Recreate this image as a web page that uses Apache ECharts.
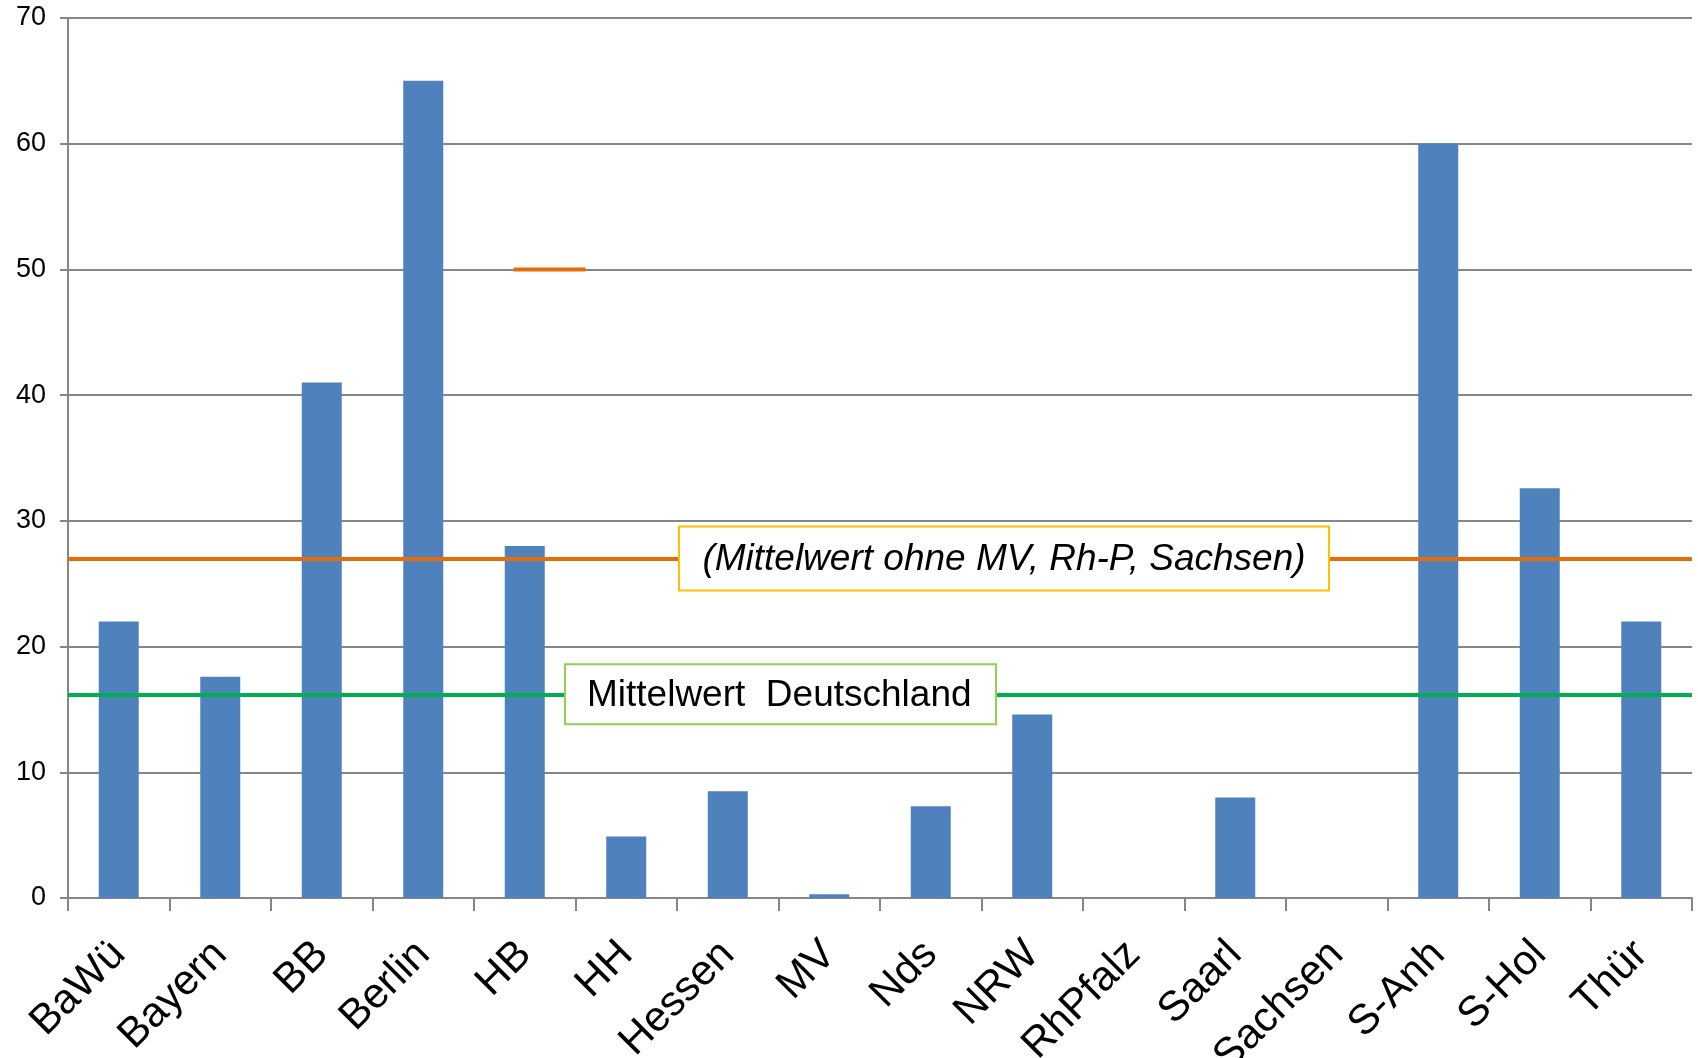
<!DOCTYPE html>
<html>
<head>
<meta charset="utf-8">
<title>Mittelwert</title>
<script src="https://cdn.jsdelivr.net/npm/echarts@6/dist/echarts.min.js"></script>
<style>
  html, body { margin: 0; padding: 0; background: #fff; }
  #chart { width: 1698px; height: 1058px; }
</style>
</head>
<body>
<div id="chart"></div>
<script>
// Bundesländer
const categories = ['BaWü', 'Bayern', 'BB', 'Berlin', 'HB', 'HH', 'Hessen', 'MV', 'Nds', 'NRW', 'RhPfalz', 'Saarl', 'Sachsen', 'S-Anh', 'S-Hol', 'Thür']
const values = [22, 17.6, 41, 65, 28, 4.9, 8.5, 0.3, 7.3, 14.6, 0, 8, 0, 60, 32.6, 22]

// Mittelwerte
const meanWithout = 27
const meanGermany = 16.2
const meanWithoutLabel = '(Mittelwert ohne MV, Rh-P, Sachsen)'
const meanGermanyLabel = 'Mittelwert  Deutschland'

// kurzes orangenes Stück bei 50 (x in Kategorie-Einheiten)
const strayLine = [[4.39, 50], [5.1, 50]]

const yMin = 0
const yMax = 70
const yStep = 10

const font = '"Liberation Sans", Arial, sans-serif'
const axisGray = '#868686'

const chart = echarts.init(document.getElementById('chart'))

chart.setOption({
  animation: false,
  grid: {
    left: 68,
    right: 6,
    top: 18,
    bottom: 160,
    outerBoundsMode: 'none'
  },
  xAxis: [{
    type: 'category',
    data: categories,
    boundaryGap: true,
    axisLine: { lineStyle: { color: axisGray, width: 2 } },
    axisTick: {
      show: true,
      length: 13,
      interval: 0,
      lineStyle: { color: axisGray, width: 2 }
    },
    axisLabel: {
      interval: 0,
      rotate: 45,
      margin: 50,
      fontSize: 42,
      fontFamily: font,
      color: '#000'
    }
  }, {
    type: 'value',
    min: 0,
    max: categories.length,
    show: false
  }],
  yAxis: {
    type: 'value',
    min: yMin,
    max: yMax,
    interval: yStep,
    axisLine: { show: true, lineStyle: { color: axisGray, width: 2 } },
    axisTick: { show: true, length: 8, lineStyle: { color: axisGray, width: 2 } },
    splitLine: { lineStyle: { color: axisGray, width: 2 } },
    axisLabel: {
      margin: 22,
      fontSize: 27,
      fontFamily: font,
      color: '#000'
    }
  },
  series: [{
    type: 'bar',
    data: values,
    barWidth: 40,
    itemStyle: { color: '#4F81BD' },
    markLine: {
      silent: true,
      symbol: 'none',
      label: { show: false },
      data: [
        { yAxis: meanWithout, lineStyle: { color: '#E46C0A', width: 4, type: 'solid' } },
        { yAxis: meanGermany, lineStyle: { color: '#00B050', width: 4, type: 'solid' } }
      ]
    }
  }, {
    type: 'line',
    xAxisIndex: 1,
    data: strayLine,
    symbol: 'none',
    lineStyle: { color: '#E46C0A', width: 4 }
  }]
})

// Textkästen auf die Mittelwert-Linien setzen
const yOrange = chart.convertToPixel({ yAxisIndex: 0 }, meanWithout)
const yGreen = chart.convertToPixel({ yAxisIndex: 0 }, meanGermany)

function box(x, y, w, h, border, text, italic, textX, align) {
  return {
    type: 'group',
    z: 100,
    children: [{
      type: 'rect',
      z: 100,
      shape: { x: x, y: y - h / 2, width: w, height: h },
      style: { fill: '#fff', stroke: border, lineWidth: 2 }
    }, {
      type: 'text',
      z: 101,
      x: textX,
      y: y + 1,
      style: {
        text: text,
        font: (italic ? 'italic ' : '') + '37px ' + font,
        fill: '#000',
        align: align,
        verticalAlign: 'middle'
      }
    }]
  }
}

chart.setOption({
  graphic: [
    box(679, yOrange, 650, 64, '#FFC000', meanWithoutLabel, true, 1004, 'center'),
    box(565, yGreen, 431, 60, '#92D050', meanGermanyLabel, false, 587, 'left')
  ]
})
</script>
</body>
</html>
